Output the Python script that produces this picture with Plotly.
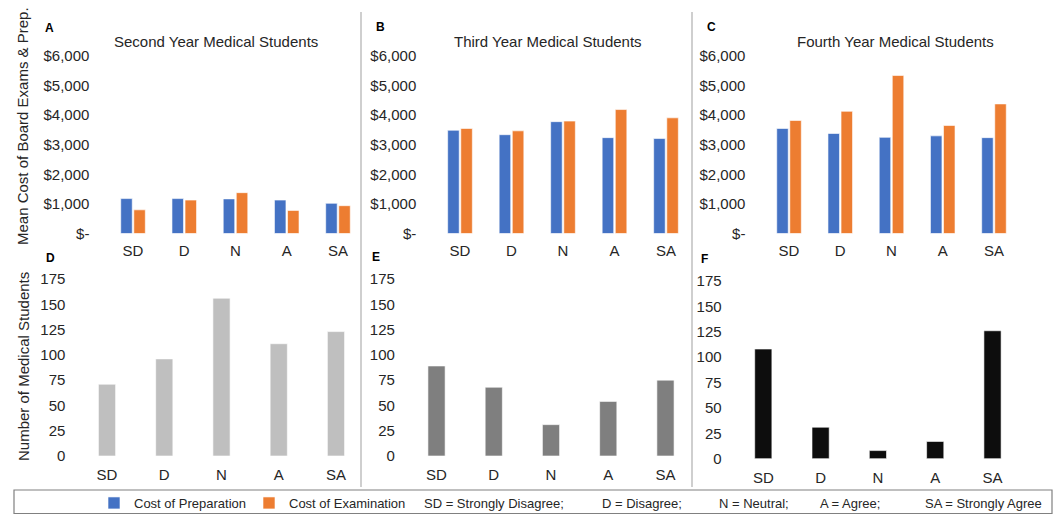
import plotly.graph_objects as go

W, H = 1058, 515

categories = ["SD", "D", "N", "A", "SA"]

# Mean cost (USD) — top panels
prep_2nd = [1180, 1180, 1170, 1130, 1020]
exam_2nd = [800, 1130, 1380, 780, 940]
prep_3rd = [3490, 3340, 3780, 3240, 3210]
exam_3rd = [3550, 3470, 3800, 4190, 3910]
prep_4th = [3550, 3380, 3250, 3300, 3240]
exam_4th = [3820, 4130, 5340, 3650, 4380]

# Number of students — bottom panels
count_2nd = [71, 96, 156, 111, 123]
count_3rd = [89, 68, 31, 54, 75]
count_4th = [108, 31, 8, 17, 126]

cost_ticks = [0, 1000, 2000, 3000, 4000, 5000, 6000]
cost_tick_labels = ["$-", "$1,000", "$2,000", "$3,000", "$4,000", "$5,000", "$6,000"]
count_ticks = [0, 25, 50, 75, 100, 125, 150, 175]

panel_titles = ["Second Year Medical Students", "Third Year Medical Students", "Fourth Year Medical Students"]
panel_letters = ["A", "B", "C", "D", "E", "F"]

BLUE = "#4472C4"
ORANGE = "#ED7D31"
FONT = "Liberation Sans, Arial, sans-serif"
TXT = "#262626"


def px(xp):
    return xp / W


def py(yp):
    return 1 - yp / H


fig = go.Figure()

# ---- top panels (axes 1..3)
top_prep = [prep_2nd, prep_3rd, prep_4th]
top_exam = [exam_2nd, exam_3rd, exam_4th]
for i in range(3):
    ax = "" if i == 0 else str(i + 1)
    fig.add_trace(go.Bar(x=categories, y=top_prep[i], name="Cost of Preparation",
                         marker=dict(color=BLUE, line=dict(color="white", width=0.6)),
                         xaxis="x" + ax, yaxis="y" + ax, showlegend=(i == 0),
                         legend="legend", legendgroup="prep", offsetgroup="prep"))
    fig.add_trace(go.Bar(x=categories, y=top_exam[i], name="Cost of Examination",
                         marker=dict(color=ORANGE, line=dict(color="white", width=0.6)),
                         xaxis="x" + ax, yaxis="y" + ax, showlegend=(i == 0),
                         legend="legend2", legendgroup="exam", offsetgroup="exam"))

# ---- bottom panels (axes 4..6)
bottom_counts = [count_2nd, count_3rd, count_4th]
bottom_colors = ["#BFBFBF", "#7F7F7F", "#0D0D0D"]
for i in range(3):
    ax = str(i + 4)
    fig.add_trace(go.Bar(x=categories, y=bottom_counts[i], width=0.3, offset=-0.15,
                         marker=dict(color=bottom_colors[i], line=dict(color="white", width=0.6)),
                         xaxis="x" + ax, yaxis="y" + ax, showlegend=False))

top_xdom = [(107.4, 363.6), (434.25, 691.75), (763.4, 1019.6)]
bot_xdom = [(78.4, 364.6), (407.9, 694.1), (734.65, 1021.15)]
top_ydom = (233.5, 56.0)
bot_ydom = [(456.0, 279.0), (456.0, 279.0), (458.7, 281.0)]

tickfont = dict(family=FONT, size=15, color=TXT)
layout = {}
for i in range(3):
    n = "" if i == 0 else str(i + 1)
    layout["xaxis" + n] = dict(domain=[px(top_xdom[i][0]), px(top_xdom[i][1])], anchor="y" + n,
                               range=[-0.5, 4.5], showgrid=False, zeroline=False, showline=False,
                               ticks="", tickfont=tickfont, ticklabelstandoff=6, fixedrange=True)
    layout["yaxis" + n] = dict(domain=[py(top_ydom[0]), py(top_ydom[1])], anchor="x" + n,
                               range=[0, 6000], tickvals=cost_ticks, ticktext=cost_tick_labels,
                               showgrid=False, zeroline=False, showline=False, ticks="",
                               tickfont=tickfont, ticklabelstandoff=17)
for i in range(3):
    n = str(i + 4)
    layout["xaxis" + n] = dict(domain=[px(bot_xdom[i][0]), px(bot_xdom[i][1])], anchor="y" + n,
                               range=[-0.5, 4.5], showgrid=False, zeroline=False, showline=False,
                               ticks="", tickfont=tickfont, ticklabelstandoff=8)
    layout["yaxis" + n] = dict(domain=[py(bot_ydom[i][0]), py(bot_ydom[i][1])], anchor="x" + n,
                               range=[0, 175], tickvals=count_ticks,
                               showgrid=False, zeroline=False, showline=False, ticks="",
                               tickfont=tickfont, ticklabelstandoff=12)

annotations = []
title_pos = [(215.5, 41), (547.5, 41), (895.8, 41)]
for t, (x, y) in zip(panel_titles, title_pos):
    annotations.append(dict(text=t, x=px(x), y=py(y), xref="paper", yref="paper",
                            showarrow=False, xanchor="center", yanchor="middle",
                            font=dict(family=FONT, size=15, color=TXT)))
letter_pos = [(49, 28), (380, 27), (711, 27), (50, 258), (376, 257), (704, 259)]
for t, (x, y) in zip(panel_letters, letter_pos):
    annotations.append(dict(text="<b>" + t + "</b>", x=px(x), y=py(y), xref="paper", yref="paper",
                            showarrow=False, xanchor="center", yanchor="middle",
                            font=dict(family=FONT, size=12, color="black")))
annotations.append(dict(text="Mean Cost of Board Exams & Prep.", x=px(23), y=py(126),
                        xref="paper", yref="paper", showarrow=False, textangle=-90,
                        xanchor="center", yanchor="middle",
                        font=dict(family=FONT, size=15, color=TXT)))
annotations.append(dict(text="Number of Medical Students", x=px(23), y=py(367),
                        xref="paper", yref="paper", showarrow=False, textangle=-90,
                        xanchor="center", yanchor="middle",
                        font=dict(family=FONT, size=15, color=TXT)))
legend_notes = [("SD = Strongly Disagree;", 421.7), ("D = Disagree;", 600),
                ("N = Neutral;", 716.7), ("A = Agree;", 818), ("SA = Strongly Agree", 923)]
for t, x in legend_notes:
    annotations.append(dict(text=t, x=px(x), y=py(503), xref="paper", yref="paper",
                            showarrow=False, xanchor="left", yanchor="middle",
                            font=dict(family=FONT, size=13, color=TXT)))

shapes = [
    dict(type="line", xref="paper", yref="paper", x0=px(361), x1=px(361), y0=py(12), y1=py(487),
         line=dict(color="#BFBFBF", width=1.5)),
    dict(type="line", xref="paper", yref="paper", x0=px(692), x1=px(692), y0=py(12), y1=py(487),
         line=dict(color="#BFBFBF", width=1.5)),
    dict(type="rect", xref="paper", yref="paper", x0=px(14), x1=px(1052), y0=py(490), y1=py(513.5),
         line=dict(color="#808080", width=1.2), fillcolor="rgba(0,0,0,0)"),
]

legend_common = dict(orientation="h", xanchor="left", yanchor="middle", y=py(503),
                     bgcolor="rgba(0,0,0,0)", font=dict(family=FONT, size=13, color=TXT),
                     itemwidth=30)

fig.update_layout(
    width=W, height=H, margin=dict(l=0, r=0, t=0, b=0, autoexpand=False),
    paper_bgcolor="white", plot_bgcolor="white",
    barmode="group", bargap=0.49, bargroupgap=0.12,
    showlegend=True,
    legend=dict(x=px(94), **legend_common),
    legend2=dict(x=px(249), **legend_common),
    annotations=annotations, shapes=shapes,
    **layout,
)

fig.write_html("out.html",
               config={"displayModeBar": False},
               post_script="document.body.style.margin='0';document.body.style.overflow='hidden';")
